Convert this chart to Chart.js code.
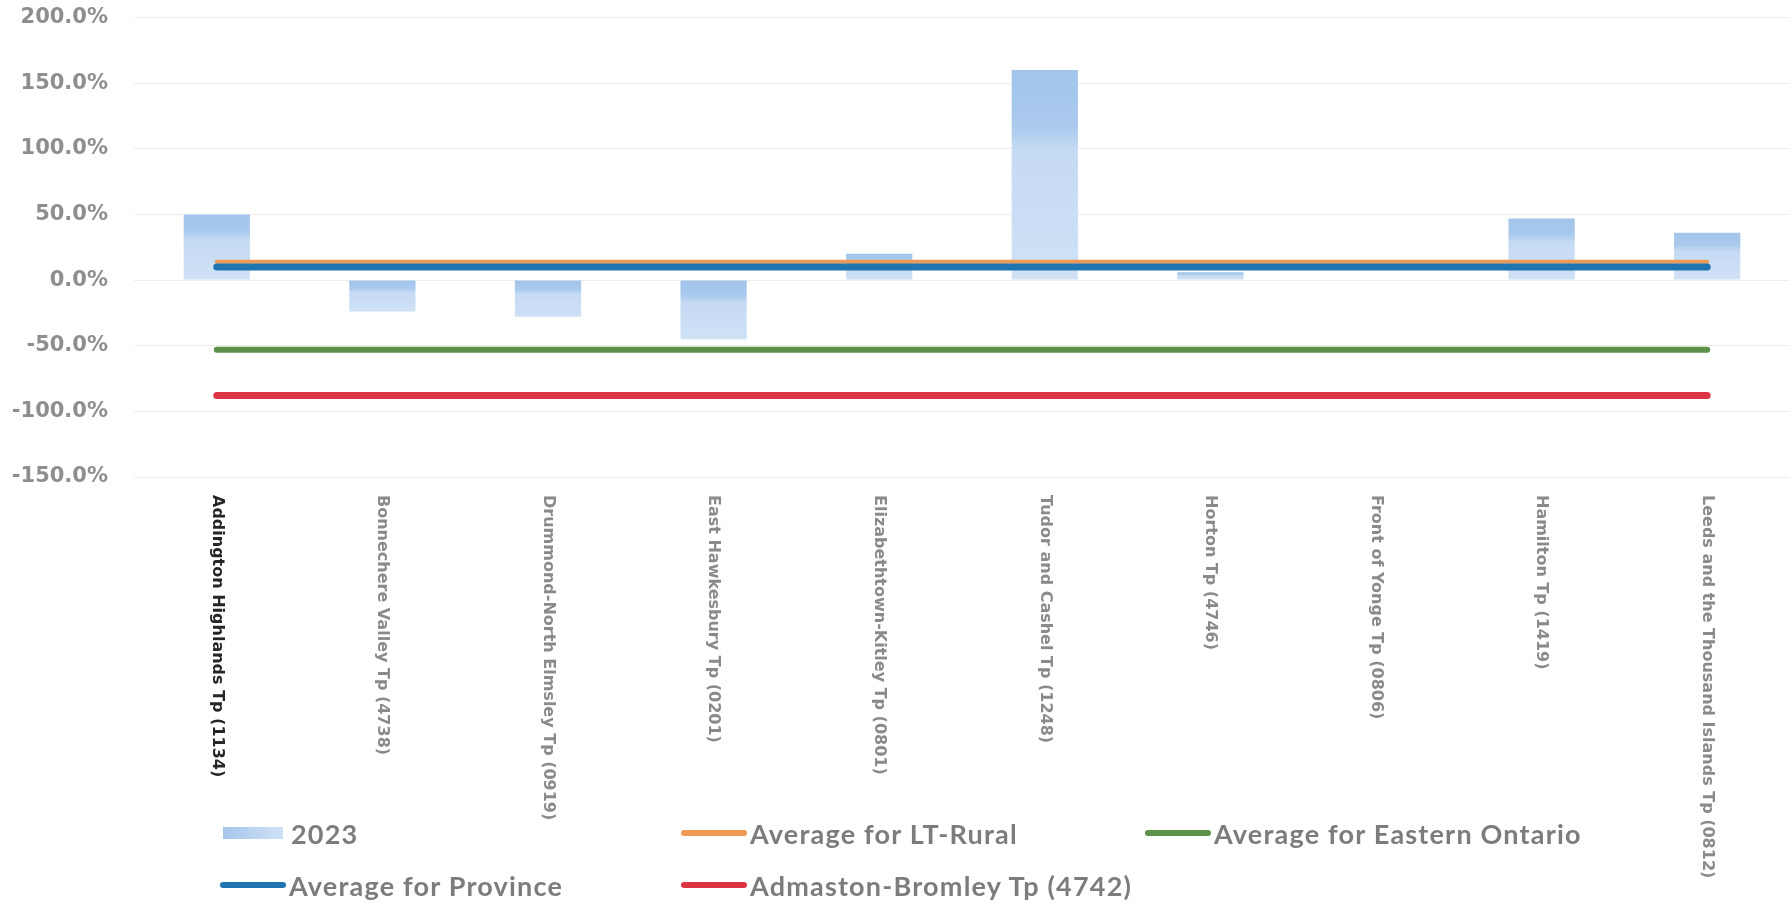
<!DOCTYPE html>
<html>
<head>
<meta charset="utf-8">
<script src="https://cdn.jsdelivr.net/npm/chart.js@4.4.1/dist/chart.umd.min.js"></script>
<style>
  html, body { margin: 0; padding: 0; background: #ffffff; }
  #wrap { position: relative; width: 1790px; height: 903px; overflow: hidden; }
  #chart { position: absolute; left: 0; top: -21px; }
  .lg-item { position: absolute; display: flex; align-items: center; height: 30px;
             font-family: Lato, "Liberation Sans", sans-serif; font-weight: 700; font-size: 27px;
             letter-spacing: 1.2px; color: #7c7c7c; white-space: nowrap; }
  .lg-swatch { display: inline-block; margin-right: 3px; }
</style>
</head>
<body>
<div id="wrap">
  <canvas id="chart" width="1790" height="924"></canvas>
</div>
<script>
// Municipalities compared
const categories = [
  'Addington Highlands Tp (1134)',
  'Bonnechere Valley Tp (4738)',
  'Drummond-North Elmsley Tp (0919)',
  'East Hawkesbury Tp (0201)',
  'Elizabethtown-Kitley Tp (0801)',
  'Tudor and Cashel Tp (1248)',
  'Horton Tp (4746)',
  'Front of Yonge Tp (0806)',
  'Hamilton Tp (1419)',
  'Leeds and the Thousand Islands Tp (0812)'
];

// 2023 change, percent
const values2023 = [50, -24, -28, -45, 20, 160, 6, 0, 47, 36];

// Reference averages, percent
const avgLtRural  = [14, 14, 14, 14, 14, 14, 14, 14, 14, 14];
const avgEastern  = [-53, -53, -53, -53, -53, -53, -53, -53, -53, -53];
const avgProvince = [10, 10, 10, 10, 10, 10, 10, 10, 10, 10];
const admaston    = [-88, -88, -88, -88, -88, -88, -88, -88, -88, -88];

// Value axis range
const yMin = -150;
const yMax = 200;
const yStep = 50;

const COLORS = {
  rural: '#ee9a55',
  eastern: '#5b9149',
  province: '#1f75b2',
  admaston: '#dd3443'
};

// Canvas sits 21px above the page edge
const CANVAS_SHIFT = 21;

// Vertical gradient per bar: darker band at the top, lighter below
function barFill(ctx) {
  const chart = ctx.chart;
  const y = chart.scales && chart.scales.y;
  if (!chart.chartArea || !y || ctx.parsed == null) return '#b8d2f0';
  const v = ctx.parsed.y;
  if (v == null || v === 0) return '#b8d2f0';
  const p0 = y.getPixelForValue(0);
  const p1 = y.getPixelForValue(v);
  const top = Math.min(p0, p1), bottom = Math.max(p0, p1);
  if (bottom - top < 1) return '#b8d2f0';
  const g = chart.ctx.createLinearGradient(0, top, 0, bottom);
  g.addColorStop(0, '#a3c5eb');
  g.addColorStop(0.26, '#a9c9ed');
  g.addColorStop(0.38, '#c5daf3');
  g.addColorStop(1, '#d0e1f6');
  return g;
}

// Category names drawn rotated clockwise, reading downward from under the plot
const rotatedLabels = {
  id: 'rotatedLabels',
  afterDraw(chart) {
    const xs = chart.scales.x;
    const c = chart.ctx;
    c.save();
    c.font = 'bold 16px "DejaVu Sans", sans-serif';
    c.textAlign = 'left';
    c.textBaseline = 'middle';
    categories.forEach((name, i) => {
      const x = xs.getPixelForValue(i);
      c.save();
      c.translate(x, 495 + CANVAS_SHIFT);
      c.rotate(Math.PI / 2);
      c.fillStyle = i === 0 ? '#262626' : '#8a8a8a';
      c.fillText(name, 0, 0);
      c.restore();
    });
    c.restore();
  }
};

function lineSet(label, data, color, width, order) {
  return {
    type: 'line', label, data, order,
    borderColor: color, backgroundColor: color,
    borderWidth: width, borderCapStyle: 'round',
    pointRadius: 0, pointHoverRadius: 0, fill: false, tension: 0
  };
}

const chart = new Chart(document.getElementById('chart'), {
  data: {
    labels: categories,
    datasets: [
      { type: 'bar', label: '2023', data: values2023, order: 10,
        backgroundColor: barFill, borderWidth: 0,
        barPercentage: 0.4, categoryPercentage: 1.0 },
      lineSet('Average for LT-Rural', avgLtRural, COLORS.rural, 4, 4),
      lineSet('Average for Eastern Ontario', avgEastern, COLORS.eastern, 6, 3),
      lineSet('Average for Province', avgProvince, COLORS.province, 7, 2),
      lineSet('Admaston-Bromley Tp (4742)', admaston, COLORS.admaston, 7, 1)
    ]
  },
  options: {
    responsive: false,
    animation: false,
    layout: { padding: { top: 0, bottom: 426, right: 0, left: 0 } },
    plugins: { legend: { display: false }, tooltip: { enabled: false } },
    scales: {
      x: {
        ticks: { display: false },
        grid: { display: false, drawTicks: false },
        border: { display: false }
      },
      y: {
        min: yMin, max: yMax,
        ticks: {
          stepSize: yStep,
          padding: 26,
          color: '#8e8e8e',
          font: { family: '"DejaVu Sans", sans-serif', size: 21, weight: 'bold' },
          callback: v => v.toFixed(1) + '%'
        },
        grid: { color: '#ededed', lineWidth: 1, drawTicks: false },
        border: { display: false },
        afterFit(scale) { scale.width = 134; }
      }
    }
  },
  plugins: [rotatedLabels]
});

// Legend laid out in two rows of fixed columns, built from the chart's datasets
const legendSlots = [
  { ds: 0, left: 223, top: 818 },
  { ds: 1, left: 681, top: 818 },
  { ds: 2, left: 1145, top: 818 },
  { ds: 3, left: 220, top: 870 },
  { ds: 4, left: 681, top: 870 }
];
const wrap = document.getElementById('wrap');
legendSlots.forEach(slot => {
  const ds = chart.data.datasets[slot.ds];
  const item = document.createElement('div');
  item.className = 'lg-item';
  item.style.left = slot.left + 'px';
  item.style.top = slot.top + 'px';
  const sw = document.createElement('span');
  sw.className = 'lg-swatch';
  if (ds.type === 'bar') {
    sw.style.width = '60px';
    sw.style.height = '12px';
    sw.style.background = 'linear-gradient(90deg, #a6c7ec, #cfe0f5)';
    sw.style.marginRight = '8px';
  } else {
    sw.style.width = '66px';
    sw.style.height = '6px';
    sw.style.borderRadius = '3px';
    sw.style.background = ds.borderColor;
  }
  const tx = document.createElement('span');
  tx.textContent = ds.label;
  item.appendChild(sw);
  item.appendChild(tx);
  wrap.appendChild(item);
});
</script>
</body>
</html>
